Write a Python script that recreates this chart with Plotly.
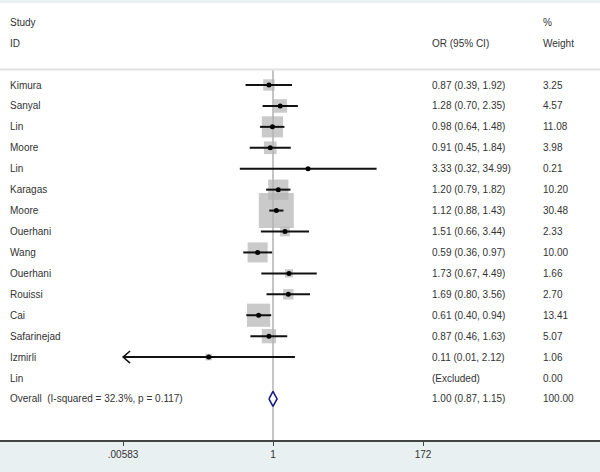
import math
import plotly.graph_objects as go

# ---- data ----
studies = ["Kimura", "Sanyal", "Lin", "Moore", "Lin", "Karagas", "Moore", "Ouerhani",
           "Wang", "Ouerhani", "Rouissi", "Cai", "Safarinejad", "Izmirli", "Lin"]
odds = [0.87, 1.28, 0.98, 0.91, 3.33, 1.20, 1.12, 1.51, 0.59, 1.73, 1.69, 0.61, 0.87, 0.11, None]
ci_low = [0.39, 0.70, 0.64, 0.45, 0.32, 0.79, 0.88, 0.66, 0.36, 0.67, 0.80, 0.40, 0.46, 0.0057, None]
ci_high = [1.92, 2.35, 1.48, 1.84, 34.99, 1.82, 1.43, 3.44, 0.97, 4.49, 3.56, 0.94, 1.63, 2.12, None]
weights = [3.25, 4.57, 11.08, 3.98, 0.21, 10.20, 30.48, 2.33, 10.00, 1.66, 2.70, 13.41, 5.07, 1.06, 0.00]

overall_label = "Overall\u00a0\u00a0(I-squared = 32.3%, p = 0.117)"
overall_or = 1.00
overall_low = 0.87
overall_high = 1.15
overall_weight = 100.00

tick_vals = [0.00583, 1, 172]
tick_text = [".00583", "1", "172"]

# ---- style ----
FONT = "Liberation Sans, Arial, sans-serif"
TXT = "#333333"
BOX = "#b4b4b4"
NAVY = "#1c1c86"
BAND = "#e8f0f2"

n = len(studies)
rows = list(range(n))
overall_row = n
xmin = tick_vals[0]

fig = go.Figure()

# null line at OR = 1
fig.add_trace(go.Scatter(x=[1, 1], y=[-0.72, overall_row + 1.96], mode="lines",
                         line=dict(color="#8a8a8a", width=1), hoverinfo="skip"))

# weight boxes
bx, by, bs = [], [], []
for r, o, w in zip(rows, odds, weights):
    if o is None:
        continue
    bx.append(o); by.append(r); bs.append(math.sqrt(w) * 6.34)
fig.add_trace(go.Scatter(x=bx, y=by, mode="markers",
                         marker=dict(symbol="square", size=bs, color=BOX, line=dict(width=0)),
                         hoverinfo="skip"))

# confidence intervals
cx, cy = [], []
ax_, ay_ = [], []
for r, lo, hi in zip(rows, ci_low, ci_high):
    if lo is None:
        continue
    lo_c = max(lo, xmin)
    cx += [lo_c, hi, None]; cy += [r, r, None]
    if lo < xmin:
        k = 10 ** (7 / 67.1)
        ax_ += [lo_c * k, lo_c, lo_c * k, None]
        ay_ += [r - 0.29, r, r + 0.29, None]
fig.add_trace(go.Scatter(x=cx, y=cy, mode="lines", line=dict(color="#111111", width=2),
                         hoverinfo="skip"))
if ax_:
    fig.add_trace(go.Scatter(x=ax_, y=ay_, mode="lines", line=dict(color="#111111", width=1.5),
                             hoverinfo="skip"))

# point estimates
fig.add_trace(go.Scatter(x=[o for o in odds if o is not None],
                         y=[r for r, o in zip(rows, odds) if o is not None],
                         mode="markers", marker=dict(symbol="circle", size=5, color="#000000"),
                         hoverinfo="skip"))

# overall diamond
h = 0.36
fig.add_trace(go.Scatter(x=[overall_low, overall_or, overall_high, overall_or, overall_low],
                         y=[overall_row, overall_row - h, overall_row, overall_row + h, overall_row],
                         mode="lines", fill="toself", fillcolor="white",
                         line=dict(color=NAVY, width=1.6), hoverinfo="skip"))

# ---- text columns ----
ann = []
def txt(x_px, row, s):
    ann.append(dict(x=x_px / 600, xref="paper", y=row, yref="y", text=s, showarrow=False,
                    xanchor="left", yanchor="middle", font=dict(family=FONT, size=10, color=TXT)))

txt(8, -3, "Study")
txt(8, -2, "ID")
txt(430, -2, "OR (95% CI)")
txt(541, -3, "%")
txt(541, -2, "Weight")

for r, s, o, lo, hi, w in zip(rows, studies, odds, ci_low, ci_high, weights):
    txt(8, r, s)
    if o is None:
        txt(430, r, "(Excluded)")
    else:
        txt(430, r, f"{o:.2f} ({lo:.2f}, {hi:.2f})")
    txt(541, r, f"{w:.2f}")

txt(8, overall_row, overall_label)
txt(430, overall_row, f"{overall_or:.2f} ({overall_low:.2f}, {overall_high:.2f})")
txt(541, overall_row, f"{overall_weight:.2f}")

# separator line under header
shapes = [dict(type="line", xref="paper", x0=0, x1=1, yref="y", y0=-0.74, y1=-0.74,
               line=dict(color="#e2e2e2", width=2))]

fig.update_layout(
    width=600, height=472,
    margin=dict(l=0, r=0, t=3, b=32),
    paper_bgcolor=BAND, plot_bgcolor="white",
    showlegend=False,
    annotations=ann, shapes=shapes,
    xaxis=dict(type="log", range=[-273 / 67.1, 327 / 67.1], showgrid=False, zeroline=False,
               showline=True, linecolor="#444444", linewidth=1.5,
               ticks="outside", ticklen=4, tickcolor="#444444", tickwidth=1,
               tickvals=tick_vals, ticktext=tick_text,
               tickfont=dict(family=FONT, size=10, color=TXT), fixedrange=True),
    yaxis=dict(range=[overall_row + 1.961, -3.918], visible=False, fixedrange=True),
)

fig.write_html("out.html", config={"displayModeBar": False},
               post_script="document.body.style.margin='0';document.body.style.overflow='hidden';")
